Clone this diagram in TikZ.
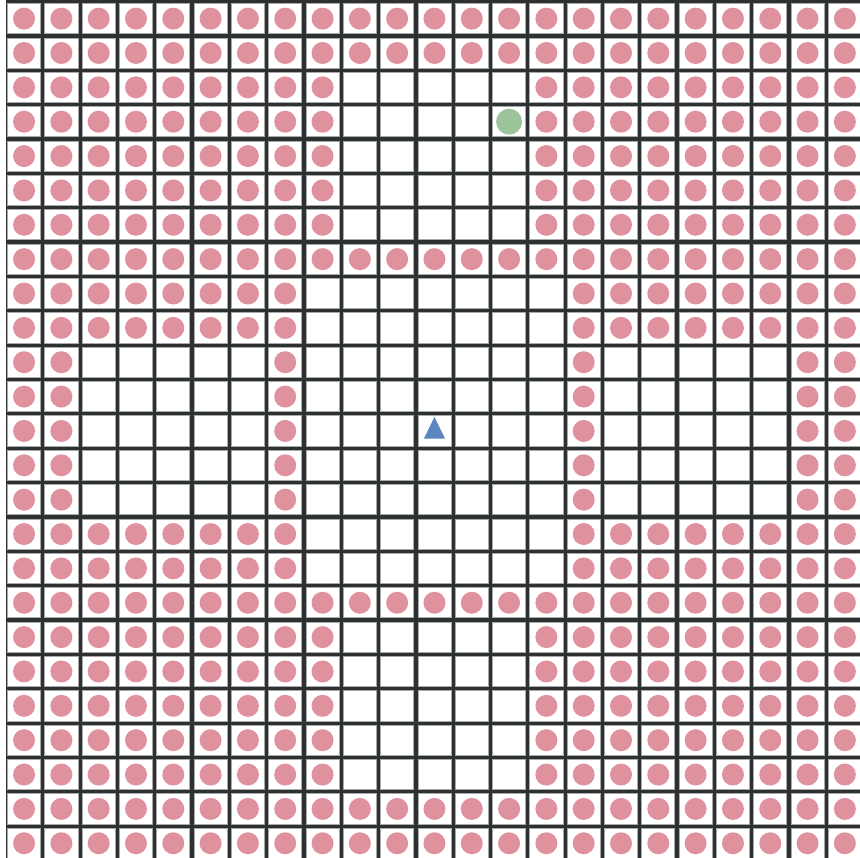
\documentclass[tikz,border=0pt]{standalone}
\usetikzlibrary{shapes.geometric}
\definecolor{gridline}{HTML}{2E3131}
\definecolor{celledge}{HTML}{A8AAAA}
\definecolor{pinkc}{HTML}{E0919E}
\definecolor{greenc}{HTML}{9CC49A}
\definecolor{bluec}{HTML}{5B87C1}
\begin{document}
\begin{tikzpicture}[x=1pt,y=-1pt,
  cellbox/.style={fill=white,draw=celledge,line width=0.8pt},
  pinkdot/.style={circle,fill=pinkc,minimum size=22pt,inner sep=0pt},
  greendot/.style={circle,fill=greenc,minimum size=26pt,inner sep=0pt},
  bluetri/.style={isosceles triangle,isosceles triangle stretches=true,shape border rotate=90,fill=bluec,minimum height=21.6pt,minimum width=21pt,inner sep=0pt}]
\def\xo{5.4}\def\dx{37.31}\def\yo{1.45}\def\dy{34.36}
\useasboundingbox (0,0) rectangle (860,858);
\clip (0,0) rectangle (860,858);
\fill[white] (0,0) rectangle (860,858);
\fill[gridline] (6,-3) rectangle (870,865);
\foreach \r in {0,...,24}{
  \foreach \c in {0,...,22}{
    \draw[cellbox] ({\xo+\dx*\c+2.1},{\yo+\dy*\r+2.1}) rectangle ({\xo+\dx*(\c+1)-2.1},{\yo+\dy*(\r+1)-2.1});
  }
}
\foreach \r/\cols in {
  0/{0,...,22}, 1/{0,...,22},
  2/{0,...,8,14,15,...,22}, 3/{0,...,8,14,15,...,22},
  4/{0,...,8,14,15,...,22}, 5/{0,...,8,14,15,...,22}, 6/{0,...,8,14,15,...,22},
  7/{0,...,22},
  8/{0,...,7,15,16,...,22}, 9/{0,...,7,15,16,...,22},
  10/{0,1,7,15,21,22}, 11/{0,1,7,15,21,22}, 12/{0,1,7,15,21,22},
  13/{0,1,7,15,21,22}, 14/{0,1,7,15,21,22},
  15/{0,...,7,15,16,...,22}, 16/{0,...,7,15,16,...,22},
  17/{0,...,22},
  18/{0,...,8,14,15,...,22}, 19/{0,...,8,14,15,...,22}, 20/{0,...,8,14,15,...,22},
  21/{0,...,8,14,15,...,22}, 22/{0,...,8,14,15,...,22},
  23/{0,...,22}, 24/{0,...,22}}{
  \foreach \c in \cols{
    \node[pinkdot] (dot-\r-\c) at ({\xo+\dx*(\c+0.5)},{\yo+\dy*(\r+0.5)}) {};
  }
}
\node[greendot] (goal) at ({\xo+\dx*13.5},{\yo+\dy*3.5}) {};
\node[bluetri] (agent) at ({\xo+\dx*11.5},{\yo+\dy*12.5+1}) {};
\end{tikzpicture}
\end{document}
